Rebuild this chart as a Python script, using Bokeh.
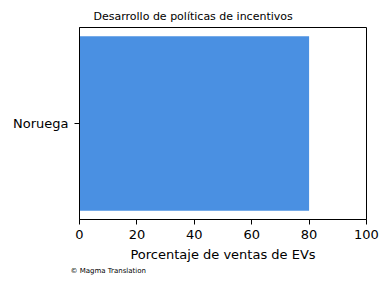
from bokeh.plotting import figure
from bokeh.models import Range1d, FixedTicker, Title
from bokeh.embed import file_html
from bokeh.resources import INLINE

categories = ["Noruega"]
values = [80]
x_ticks = [0, 20, 40, 60, 80, 100]
title_text = "Desarrollo de políticas de incentivos"
x_label = "Porcentaje de ventas de EVs"
credit = "© Magma Translation"

FONT = "DejaVu Sans"

p = figure(width=390, height=282, output_backend="svg", toolbar_location=None,
           x_range=Range1d(0, 100), y_range=Range1d(-0.44, len(categories) - 1 + 0.44),
           min_border_left=79, min_border_right=24, min_border_top=27, min_border_bottom=63)
p.title = None
p.hbar(y=list(range(len(categories))), right=values, height=0.8, left=0,
       fill_color="#4a90e2", line_color=None)

p.xgrid.visible = False
p.ygrid.visible = False
p.outline_line_color = "black"
p.outline_line_width = 1
p.outline_line_alpha = 1

xa = p.xaxis[0]
xa.ticker = FixedTicker(ticks=x_ticks)
xa.minor_tick_line_color = None
xa.major_tick_in = 0
xa.major_tick_out = 5
xa.major_tick_line_color = "black"
xa.axis_line_color = "black"
xa.major_label_text_font = FONT
xa.major_label_text_font_size = "13px"
xa.major_label_text_color = "black"
xa.major_label_standoff = 5
xa.axis_label = x_label
xa.axis_label_text_font = FONT
xa.axis_label_text_font_size = "13px"
xa.axis_label_text_font_style = "normal"
xa.axis_label_text_color = "black"
xa.axis_label_standoff = 5

ya = p.yaxis[0]
ya.ticker = FixedTicker(ticks=list(range(len(categories))))
ya.major_label_overrides = {i: c for i, c in enumerate(categories)}
ya.minor_tick_line_color = None
ya.major_tick_in = 0
ya.major_tick_out = 5
ya.major_tick_line_color = "black"
ya.axis_line_color = "black"
ya.major_label_text_font = FONT
ya.major_label_text_font_size = "13px"
ya.major_label_text_color = "black"
ya.major_label_standoff = 6

p.add_layout(Title(text=title_text, align="left", offset=14, text_font=FONT,
                   text_font_size="11px", text_font_style="normal",
                   text_color="black", standoff=9), "above")
p.add_layout(Title(text=credit, align="left", offset=-9, text_font=FONT,
                   text_font_size="7px", text_font_style="normal",
                   text_color="black", standoff=1), "below")

open("out.html", "w").write(file_html(p, INLINE))
